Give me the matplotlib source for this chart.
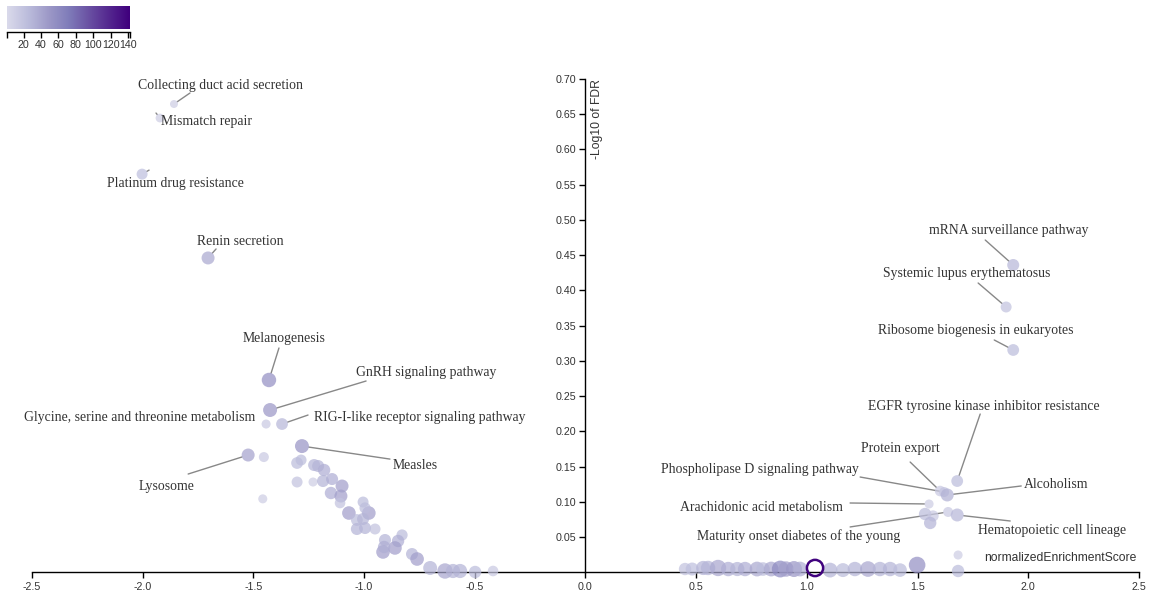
import numpy as np
import matplotlib
matplotlib.use("Agg")
import matplotlib.pyplot as plt
from matplotlib.colors import LinearSegmentedColormap, Normalize

plt.rcParams['axes.unicode_minus'] = False

# ---------------- data ----------------
# labelled pathways
label_names = [
    "Collecting duct acid secretion", "Mismatch repair", "Platinum drug resistance",
    "Renin secretion", "Melanogenesis", "GnRH signaling pathway",
    "Glycine, serine and threonine metabolism", "RIG-I-like receptor signaling pathway",
    "Measles", "Lysosome",
    "mRNA surveillance pathway", "Systemic lupus erythematosus",
    "Ribosome biogenesis in eukaryotes", "EGFR tyrosine kinase inhibitor resistance",
    "Protein export", "Phospholipase D signaling pathway", "Alcoholism",
    "Arachidonic acid metabolism", "Maturity onset diabetes of the young",
    "Hematopoietic cell lineage",
]
label_nes = [-1.858, -1.921, -2.002, -1.704, -1.429, -1.424, -1.442, -1.370, -1.280, -1.523,
             1.932, 1.900, 1.932, 1.679, 1.602, 1.620, 1.634, 1.552, 1.638, 1.679]
label_fdr = [0.6645, 0.6446, 0.565, 0.446, 0.2728, 0.2302, 0.2103, 0.2103, 0.179, 0.1663,
             0.436, 0.3764, 0.3154, 0.1294, 0.1152, 0.1138, 0.1096, 0.0968, 0.0855, 0.0812]
label_size = [12, 12, 22, 38, 55, 50, 15, 28, 52, 42,
              28, 20, 25, 25, 15, 20, 32, 12, 15, 28]
label_weight = [8, 15, 33, 50, 62, 58, 17, 40, 58, 50,
                42, 33, 40, 40, 30, 25, 50, 17, 25, 50]

# unlabelled pathways
other_nes = [-1.452, -1.457, -1.302, -1.284, -1.225, -1.207, -1.180, -1.302, -1.230, -1.185,
             -1.144, -1.099, -1.149, -1.104, -1.108, -1.004, -1.068, -0.978, -0.995, -1.032,
             -1.004, -1.032, -0.995, -0.950, -0.905, -0.828, -0.846, -0.914, -0.860, -0.909,
             -0.783, -0.760, -0.701, -0.634, -0.598, -0.566, -0.498, -0.417,
             1.534, 1.570, 1.557, 1.683, 1.683,
             0.450, 0.482, 0.532, 0.554, 0.599, 0.645, 0.686, 0.721, 0.775, 0.802,
             0.839, 0.880, 0.906, 0.942, 0.969, 1.105, 1.163, 1.217, 1.276, 1.330,
             1.376, 1.421, 1.498]
other_fdr = [0.1634, 0.1041, 0.1550, 0.1592, 0.1521, 0.1507, 0.1450, 0.1280, 0.1280, 0.1294,
             0.1322, 0.1223, 0.1124, 0.1081, 0.0982, 0.0996, 0.0840, 0.0840, 0.0911, 0.0741,
             0.0755, 0.0613, 0.0627, 0.0613, 0.0457, 0.0528, 0.0443, 0.0287, 0.0344, 0.0358,
             0.0258, 0.0187, 0.0060, 0.0017, 0.0017, 0.0017, 0.0003, 0.0017,
             0.0826, 0.0798, 0.0699, 0.0244, 0.0017,
             0.0045, 0.0045, 0.0060, 0.0060, 0.0060, 0.0045, 0.0045, 0.0045, 0.0045, 0.0045,
             0.0045, 0.0045, 0.0045, 0.0045, 0.0045, 0.0030, 0.0030, 0.0045, 0.0045, 0.0045,
             0.0045, 0.0030, 0.0102]
other_size = [15, 12, 25, 25, 30, 30, 35, 20, 12, 30,
              35, 45, 35, 45, 20, 25, 45, 45, 25, 25,
              30, 30, 30, 20, 30, 25, 35, 45, 45, 35,
              30, 45, 30, 40, 30, 30, 25, 15,
              25, 15, 30, 12, 25,
              20, 22, 30, 30, 40, 35, 30, 35, 38, 25,
              40, 60, 45, 50, 35, 30, 25, 30, 40, 30,
              30, 25, 55]
other_weight = [25, 17, 40, 33, 42, 42, 45, 33, 17, 42,
                42, 50, 45, 50, 30, 33, 55, 55, 35, 40,
                42, 42, 42, 33, 42, 35, 45, 55, 55, 45,
                42, 55, 58, 70, 60, 60, 45, 30,
                45, 35, 45, 17, 45,
                45, 50, 60, 62, 78, 62, 60, 62, 65, 55,
                65, 82, 70, 75, 65, 65, 58, 62, 72, 62,
                62, 55, 80]

# highlighted (outlined) pathway
hl_nes = [1.037]
hl_fdr = [0.006]
hl_size = [140]
hl_weight = [92]

x_ticks = [-2.5, -2.0, -1.5, -1.0, -0.5, 0.0, 0.5, 1.0, 1.5, 2.0, 2.5]
y_ticks = [0.05, 0.10, 0.15, 0.20, 0.25, 0.30, 0.35, 0.40, 0.45, 0.50, 0.55, 0.60, 0.65, 0.70]
legend_ticks = [20, 40, 60, 80, 100, 120, 140]
size_min, size_max = 1, 142

# label layout: text-centre offsets and leader-line end offsets (pixels from the point)
label_text_off = [(47, 19), (46, -3), (33, -9), (32, 16), (15, 41), (156, 38), (-126, 7),
                  (138, 7), (113, -19), (-82, -31), (-4, 35), (-39, 33), (-37, 19), (27, 75),
                  (-40, 43), (-184, 23), (109, 10), (-168, -4), (-149, -24), (95, -16)]
label_line_off = [(16, 11), (-4, 5), (7, 4), (8, 9), (10, 32), (96, 29), (0, 0),
                  (26, 9), (88, -13), (-60, -19), (-28, 25), (-28, 24), (-19, 10), (23, 67),
                  (-30, 29), (-84, 15), (74, 9), (-79, 1), (-98, -15), (53, -6)]

# ---------------- style ----------------
base = plt.get_cmap('Purples')
cmap = LinearSegmentedColormap.from_list('pur', base(np.linspace(0.25, 1.0, 256)))
norm = Normalize(size_min, size_max)


def radius_px(w):
    return 3.5 + 0.06 * np.asarray(w, float)


def s_of(w):
    return (2 * radius_px(w) * 72 / 100.0) ** 2


W, H = 1149, 596
fig = plt.figure(figsize=(W / 100, H / 100), dpi=100)
x0px, x1px = 31.8, 1139.0
y0px, y1px = 572.2, 79.0
ax = fig.add_axes([x0px / W, 1 - y0px / H, (x1px - x0px) / W, (y0px - y1px) / H])
ax.set_xlim(-2.5, 2.5)
ax.set_ylim(0, 0.70)

alpha = 0.72
ax.scatter(other_nes, other_fdr, s=s_of(other_weight), c=cmap(norm(other_size)),
           alpha=alpha, linewidths=0, clip_on=False, zorder=3)
ax.scatter(label_nes, label_fdr, s=s_of(label_weight), c=cmap(norm(label_size)),
           alpha=alpha, linewidths=0, clip_on=False, zorder=3)
ax.scatter(hl_nes, hl_fdr, s=(2 * (radius_px(hl_weight) - 0.9) * 0.72) ** 2,
           facecolors='none', edgecolors=cmap(norm(hl_size)), linewidths=1.8,
           clip_on=False, zorder=4)

serif = ['Liberation Serif', 'DejaVu Serif']
sans = ['Liberation Sans', 'DejaVu Sans']
for name, xv, yv, w, toff, loff in zip(label_names, label_nes, label_fdr, label_weight,
                                       label_text_off, label_line_off):
    r = radius_px(w)
    ax.annotate(name, xy=(xv, yv), xycoords='data', xytext=toff, textcoords='offset pixels',
                ha='center', va='center', fontsize=9.9, family=serif, color='#333333',
                zorder=5)
    if np.hypot(*loff) > r:
        ax.annotate('', xy=(xv, yv), xycoords='data', xytext=loff, textcoords='offset pixels',
                    arrowprops=dict(arrowstyle='-', color='#888888', lw=1.0,
                                    shrinkA=0, shrinkB=r * 0.72, patchA=None),
                    zorder=2.5)

# axes styling
for sp in ['top', 'right']:
    ax.spines[sp].set_visible(False)
ax.spines['left'].set_position(('data', 0))
ax.spines['bottom'].set_position(('data', 0))
for sp in ['left', 'bottom']:
    ax.spines[sp].set_linewidth(1.0)
    ax.spines[sp].set_color('black')
    ax.spines[sp].set_zorder(2)
ax.set_xticks(x_ticks)
ax.set_xticklabels([f"{t:.1f}" for t in x_ticks])
ax.set_yticks(y_ticks)
ax.set_yticklabels([f"{t:.2f}" for t in y_ticks])
ax.tick_params(axis='both', direction='out', length=4.3, width=1.0, pad=2.6,
               labelsize=7.7, labelcolor='#333333', color='black')
for lab in ax.get_xticklabels() + ax.get_yticklabels():
    lab.set_family(sans)
ax.patch.set_visible(False)

ax.annotate("-Log10 of FDR", xy=(0, 0.70), xycoords='data', xytext=(12, 0),
            textcoords='offset pixels', rotation=90, ha='center', va='top',
            fontsize=8.7, family=sans, color='#333333')
ax.annotate("normalizedEnrichmentScore", xy=(2.5, 0), xycoords='data', xytext=(-2, 14),
            textcoords='offset pixels', ha='right', va='center',
            fontsize=8.7, family=sans, color='#333333')

# colour legend
lax = fig.add_axes([7 / W, 1 - 32 / H, 123 / W, 26 / H])
grad = np.linspace(size_min, size_max, 256).reshape(1, -1)
lax.imshow(grad, cmap=cmap, norm=norm, aspect='auto',
           extent=[size_min, size_max, 0.115, 1.0], interpolation='bilinear')
lax.set_xlim(size_min, size_max)
lax.set_ylim(0, 1)
for sp in ['top', 'right', 'left']:
    lax.spines[sp].set_visible(False)
lax.spines['bottom'].set_linewidth(1.0)
lax.set_yticks([])
lax.set_xticks(legend_ticks)
lax.set_xticklabels([str(t) for t in legend_ticks])
lax.set_xticks([size_min, size_max], minor=True)
lax.tick_params(axis='x', which='both', direction='out', length=4.3, width=1.0, pad=1.8,
                labelsize=7.7, labelcolor='#333333')
for lab in lax.get_xticklabels():
    lab.set_family(sans)
lax.patch.set_visible(False)

fig.savefig("out.png", dpi=100)
